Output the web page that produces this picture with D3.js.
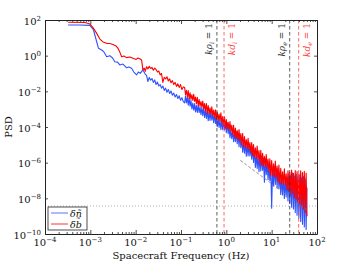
<!DOCTYPE html>
<html lang="en">
<head>
<meta charset="utf-8">
<title>PSD spectrum</title>
<script src="https://d3js.org/d3.v7.min.js"></script>
<style>
    body { margin: 0; background: #fff; }
    text { font-family: "DejaVu Serif", "Liberation Serif", serif; fill: #111; }
</style>
</head>
<body>
<svg id="chart" width="350" height="263"></svg>
<script>
// axis ticks
const xTickVals = [1e-4, 1e-3, 1e-2, 1e-1, 1e0, 1e1, 1e2];
const xTickExp = ["\u22124", "\u22123", "\u22122", "\u22121", "0", "1", "2"];
const yTickVals = [1e2, 1e0, 1e-2, 1e-4, 1e-6, 1e-8, 1e-10];
const yTickExp = ["2", "0", "\u22122", "\u22124", "\u22126", "\u22128", "\u221210"];

// low-frequency part of the spectra: [log10 f (Hz), log10 PSD]
const blueLow = [
    [-3.49, 1.72], [-3.25, 1.72], [-3.01, 1.70], [-2.93, 1.44], [-2.86, 0.78], [-2.82, 0.41],
    [-2.75, 0.32], [-2.70, 0.21], [-2.64, -0.06], [-2.57, 0.0], [-2.51, -0.13], [-2.46, -0.34],
    [-2.40, -0.36], [-2.35, -0.52], [-2.28, -0.47], [-2.20, -0.68], [-2.15, -0.64], [-2.09, -0.71],
    [-2.04, -0.92], [-1.98, -1.08], [-1.94, -0.92], [-1.90, -0.99], [-1.84, -0.80], [-1.79, -1.03],
    [-1.76, -1.10], [-1.73, -1.45], [-1.70, -1.22], [-1.67, -1.38], [-1.64, -1.28], [-1.61, -1.50],
    [-1.58, -1.36], [-1.55, -1.62], [-1.52, -1.48], [-1.49, -1.70], [-1.46, -1.62], [-1.43, -1.82],
    [-1.40, -1.70], [-1.37, -1.95], [-1.34, -1.82], [-1.31, -2.05], [-1.28, -1.90], [-1.25, -2.12],
    [-1.22, -1.98], [-1.19, -2.22], [-1.16, -2.10], [-1.13, -2.32], [-1.10, -2.18], [-1.07, -2.40],
    [-1.04, -2.25], [-1.01, -2.50], [-0.98, -2.36], [-0.95, -2.58]
];
const redLow = [
    [-3.49, 1.87], [-3.12, 1.86], [-3.01, 1.78], [-2.93, 1.53], [-2.86, 1.25], [-2.79, 0.93],
    [-2.72, 0.77], [-2.64, 0.69], [-2.57, 0.68], [-2.50, 0.63], [-2.43, 0.54], [-2.39, 0.41],
    [-2.35, 0.20], [-2.31, -0.06], [-2.26, -0.02], [-2.20, -0.11], [-2.13, -0.07], [-2.06, -0.15],
    [-1.99, -0.21], [-1.95, -0.13], [-1.90, -0.19], [-1.87, -0.24], [-1.84, -0.80], [-1.81, -0.70],
    [-1.79, -0.88], [-1.76, -0.62], [-1.73, -0.74], [-1.70, -0.60], [-1.67, -0.72], [-1.64, -0.66],
    [-1.61, -0.82], [-1.58, -0.70], [-1.55, -0.78], [-1.52, -0.92], [-1.49, -0.86], [-1.46, -1.08],
    [-1.43, -1.00], [-1.40, -1.50], [-1.37, -1.22], [-1.34, -1.30], [-1.31, -1.18], [-1.28, -1.42],
    [-1.25, -1.30], [-1.22, -1.52], [-1.19, -1.40], [-1.16, -1.62], [-1.13, -1.50], [-1.10, -1.72],
    [-1.07, -1.58], [-1.04, -1.78], [-1.01, -1.62], [-0.98, -1.90], [-0.95, -1.75]
];

// high-frequency part, sampled every 0.02 in log10 f from 10^-0.92 Hz: log10 PSD
const highLogF0 = -0.92, highLogStep = 0.02;
const blueHigh = [
    -2.65, -2.25, -2.65, -2.34, -2.78, -2.38, -2.83, -2.51, -2.99, -2.66,
    -3.05, -2.69, -3.16, -2.79, -3.18, -2.78, -3.19, -2.87, -3.31, -2.91,
    -3.36, -2.90, -3.47, -3.05, -3.52, -3.06, -3.64, -3.17, -3.63, -3.13,
    -3.62, -3.23, -3.76, -3.25, -3.80, -3.41, -3.98, -3.56, -4.02, -3.57,
    -4.15, -3.63, -4.15, -3.60, -4.16, -3.73, -4.32, -3.76, -4.38, -3.95,
    -4.60, -4.14, -4.66, -4.17, -4.82, -4.30, -4.83, -4.26, -4.93, -4.40,
    -5.10, -4.43, -5.16, -4.64, -5.41, -4.84, -5.47, -4.87, -5.64, -5.01,
    -5.63, -4.96, -5.63, -5.10, -5.80, -5.13, -5.99, -5.31, -6.27, -5.55,
    -6.32, -5.56, -6.51, -5.69, -6.47, -5.61, -6.43, -5.76, -7.10, -5.77,
    -6.67, -5.99, -6.95, -6.23, -7.00, -6.19, -8.55, -6.33, -7.31, -6.19,
    -7.22, -6.34, -7.42, -6.31, -7.46, -6.57, -7.78, -6.83, -7.81, -6.81,
    -8.01, -6.95, -7.92, -6.81, -8.15, -6.62, -8.30, -6.70, -8.50, -6.58,
    -8.60, -6.75, -8.80, -6.65, -8.95, -6.80, -9.10, -6.70, -9.30, -6.85,
    -9.45, -6.78, -9.60, -6.90, -9.75, -7.40
];
const redHigh = [
    -1.79, -2.19, -1.94, -2.32, -1.96, -2.42, -2.08, -2.45, -2.19, -2.51,
    -2.17, -2.57, -2.32, -2.70, -2.34, -2.80, -2.46, -2.83, -2.57, -2.89,
    -2.55, -2.98, -2.68, -3.12, -2.68, -3.22, -2.80, -3.25, -2.92, -3.30,
    -2.87, -3.34, -3.05, -3.48, -3.04, -3.59, -3.16, -3.61, -3.28, -3.66,
    -3.21, -3.76, -3.41, -3.94, -3.43, -4.07, -3.58, -4.10, -3.73, -4.17,
    -3.69, -4.24, -3.89, -4.42, -3.91, -4.55, -4.06, -4.63, -4.20, -4.70,
    -4.14, -4.77, -4.37, -4.96, -4.37, -5.09, -4.54, -5.13, -4.70, -5.20,
    -4.64, -5.27, -4.87, -5.46, -4.87, -5.59, -4.98, -5.68, -5.16, -5.74,
    -5.07, -5.80, -5.32, -6.01, -5.30, -6.15, -5.47, -6.17, -5.65, -6.23,
    -5.55, -6.28, -5.80, -6.50, -5.79, -6.75, -5.88, -6.74, -6.07, -6.78,
    -5.91, -6.82, -6.19, -7.06, -6.14, -7.19, -6.32, -7.18, -6.51, -7.22,
    -6.35, -7.26, -6.63, -7.50, -6.45, -7.60, -6.55, -7.75, -6.42, -7.70,
    -6.60, -7.95, -6.44, -8.05, -6.50, -8.20, -6.62, -8.30, -6.46, -8.45,
    -6.55, -8.60, -6.48, -8.80, -6.58, -9.00
];

// characteristic scales (Hz)
const markerFreq = [0.62, 0.89, 25, 39.4];
const markerSym = ["\u03c1", "d", "\u03c1", "d"];
const markerSub = ["i", "i", "e", "e"];

const noiseLevel = 3.7e-9;
const fitLine = [[2.04, 1.35e-6], [61.4, 2.1e-9]];

const legendNames = ["\u03b4\u00f1", "\u03b4b\u0303"];

const width = 350, height = 263;
const margin = { top: 20, right: 33, bottom: 29, left: 45 };

const svg = d3.select("#chart");

const x = d3.scaleLog().domain([1e-4, 1e2]).range([margin.left, width - margin.right]);
const y = d3.scaleLog().domain([1e-10, 1e2]).range([height - margin.bottom, margin.top]);

const withGrid = vals => vals.map((v, i) => [highLogF0 + i * highLogStep, v]);
const blueSpec = blueLow.concat(withGrid(blueHigh));
const redSpec = redLow.concat(withGrid(redHigh));

svg.append("defs").append("clipPath").attr("id", "clip")
    .append("rect")
    .attr("x", margin.left).attr("y", margin.top)
    .attr("width", x.range()[1] - x.range()[0])
    .attr("height", y.range()[0] - y.range()[1]);

const plot = svg.append("g").attr("clip-path", "url(#clip)");

// noise floor (dotted)
plot.append("line")
    .attr("x1", x.range()[0]).attr("x2", x.range()[1])
    .attr("y1", y(noiseLevel)).attr("y2", y(noiseLevel))
    .attr("stroke", "#999").attr("stroke-width", 0.8)
    .attr("stroke-dasharray", "1,2");

const line = d3.line()
    .x(d => x(Math.pow(10, d[0])))
    .y(d => y(Math.pow(10, d[1])));

plot.append("path")
    .datum(blueSpec)
    .attr("d", line)
    .attr("fill", "none")
    .attr("stroke", "#2f52ff")
    .attr("stroke-width", 1.1)
    .attr("stroke-linejoin", "round");

plot.append("path")
    .datum(redSpec)
    .attr("d", line)
    .attr("fill", "none")
    .attr("stroke", "#ff0000")
    .attr("stroke-width", 1.1)
    .attr("stroke-linejoin", "round");

// power-law guide
plot.append("line")
    .attr("x1", x(fitLine[0][0])).attr("y1", y(fitLine[0][1]))
    .attr("x2", x(fitLine[1][0])).attr("y2", y(fitLine[1][1]))
    .attr("stroke", "#777").attr("stroke-width", 0.8)
    .attr("stroke-dasharray", "3,2");

// vertical markers
markerFreq.forEach((f, i) => {
    const isRed = markerSym[i] === "d";
    const col = isRed ? "#ff4040" : "#333";
    const xp = x(f);
    plot.append("line")
        .attr("x1", xp).attr("x2", xp)
        .attr("y1", y.range()[1]).attr("y2", y.range()[0])
        .attr("stroke", col).attr("stroke-width", 0.8)
        .attr("stroke-dasharray", "3.5,2.5");

    const tx = isRed ? xp + 11 : xp - 5;
    const t = svg.append("text")
        .attr("transform", `translate(${tx},23) rotate(-90)`)
        .attr("text-anchor", "end")
        .style("font-size", "9px")
        .style("fill", col);
    t.append("tspan").style("font-style", "italic").text("k" + markerSym[i]);
    t.append("tspan").attr("dy", 2).style("font-size", "6.5px").style("font-style", "italic").text(markerSub[i]);
    t.append("tspan").attr("dy", -2).text(" = 1");
});

// axes
const xMinor = [];
xTickVals.slice(0, -1).forEach(v => { for (let k = 2; k <= 9; k++) xMinor.push(v * k); });

const axisStyle = g => {
    g.selectAll("path").attr("stroke", "#222").attr("stroke-width", 1);
    g.selectAll("line").attr("stroke", "#222").attr("stroke-width", 0.8);
};

const y0 = y.range()[0], y1 = y.range()[1];
const x0 = x.range()[0], x1 = x.range()[1];

svg.append("g").attr("transform", `translate(0,${y0})`)
    .call(d3.axisBottom(x).tickValues(xTickVals).tickSizeInner(-4).tickSizeOuter(0).tickFormat(""))
    .call(axisStyle);
svg.append("g").attr("transform", `translate(0,${y0})`)
    .call(d3.axisBottom(x).tickValues(xMinor).tickSizeInner(-2).tickSizeOuter(0).tickFormat(""))
    .call(g => g.select(".domain").remove())
    .call(axisStyle);
svg.append("g").attr("transform", `translate(0,${y1})`)
    .call(d3.axisTop(x).tickValues(xTickVals).tickSizeInner(-4).tickSizeOuter(0).tickFormat(""))
    .call(axisStyle);
svg.append("g").attr("transform", `translate(0,${y1})`)
    .call(d3.axisTop(x).tickValues(xMinor).tickSizeInner(-2).tickSizeOuter(0).tickFormat(""))
    .call(g => g.select(".domain").remove())
    .call(axisStyle);
svg.append("g").attr("transform", `translate(${x0},0)`)
    .call(d3.axisLeft(y).tickValues(yTickVals).tickSizeInner(-3).tickSizeOuter(0).tickFormat(""))
    .call(axisStyle);
svg.append("g").attr("transform", `translate(${x1},0)`)
    .call(d3.axisRight(y).tickValues(yTickVals).tickSizeInner(-3).tickSizeOuter(0).tickFormat(""))
    .call(axisStyle);

// tick labels with superscripts
xTickVals.forEach((v, i) => {
    const t = svg.append("text")
        .attr("x", x(v)).attr("y", y0 + 11.5)
        .attr("text-anchor", "middle")
        .style("font-size", "10px");
    t.append("tspan").text("10");
    t.append("tspan").attr("dy", -4).style("font-size", "7px").text(xTickExp[i]);
});
yTickVals.forEach((v, i) => {
    const t = svg.append("text")
        .attr("x", x0 - 4).attr("y", y(v) + 4.5)
        .attr("text-anchor", "end")
        .style("font-size", "10px");
    t.append("tspan").text("10");
    t.append("tspan").attr("dy", -4).style("font-size", "7px").text(yTickExp[i]);
});

svg.append("text")
    .attr("x", (x0 + x1) / 2).attr("y", height - 4)
    .attr("text-anchor", "middle")
    .style("font-size", "10px")
    .text("Spacecraft Frequency (Hz)");

svg.append("text")
    .attr("transform", `translate(12,${(y0 + y1) / 2}) rotate(-90)`)
    .attr("text-anchor", "middle")
    .style("font-size", "10px")
    .text("PSD");

// legend
const legend = svg.append("g").attr("transform", "translate(48,207)");
legend.append("rect")
    .attr("width", 39).attr("height", 23)
    .attr("fill", "#fff").attr("stroke", "#222").attr("stroke-width", 0.8);
const legendColors = ["#2f52ff", "#ff0000"];
legendNames.forEach((name, i) => {
    legend.append("line")
        .attr("x1", 3).attr("x2", 20)
        .attr("y1", 6 + i * 11).attr("y2", 6 + i * 11)
        .attr("stroke", legendColors[i]).attr("stroke-width", 0.8);
    legend.append("text")
        .attr("x", 22).attr("y", 9.5 + i * 11)
        .style("font-size", "9.5px")
        .style("font-style", "italic")
        .text(name);
});
</script>
</body>
</html>
